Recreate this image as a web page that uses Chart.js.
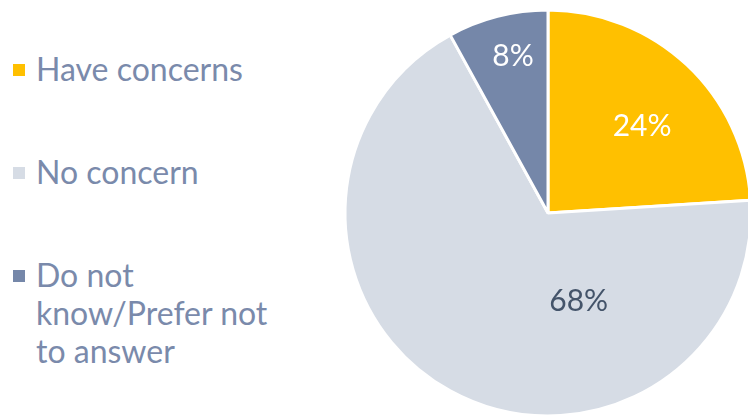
<!DOCTYPE html>
<html>
<head>
<meta charset="utf-8">
<script src="https://cdn.jsdelivr.net/npm/chart.js@4/dist/chart.umd.min.js"></script>
<style>
  html, body { margin: 0; padding: 0; background: #fff; overflow: hidden; }
  body { width: 748px; height: 415px; position: relative; font-family: Lato, "Open Sans", sans-serif; }
  #legend { position: absolute; left: 13px; top: 50px; }
  .item { display: flex; align-items: flex-start; margin-bottom: 65px; }
  .box { width: 12px; height: 12px; margin-top: 14px; margin-right: 11px; flex: none; }
  .txt { width: 245px; font-size: 32px; line-height: 38px; color: #7a8aab; }
  #wrap { position: absolute; left: 328px; top: -7px; width: 440px; height: 440px; }
</style>
</head>
<body>
<div id="legend"></div>
<div id="wrap"><canvas id="pie"></canvas></div>
<script>
// Data
const categories = ["Have concerns", "No concern", "Do not know/Prefer not to answer"]
const values = [24, 68, 8]
const colors = ["#ffc000", "#d6dce5", "#7587a9"]
const labelColors = ["#ffffff", "#44546a", "#ffffff"]
// label placement inside each slice: fraction of radius, angle shift (deg) from slice middle
const labelPlace = [{ f: 0.63, shift: 4.2 }, { f: 0.46, shift: -48 }, { f: 0.79, shift: 1.8 }]

// Legend
document.getElementById("legend").innerHTML = categories.map((c, i) => `
  <div class="item">
    <div class="box" style="background:${colors[i]}"></div>
    <div class="txt">${c}</div>
  </div>
`).join("")

// Slice labels
const sliceLabels = {
  id: "sliceLabels",
  afterDatasetsDraw(chart) {
    const ctx = chart.ctx
    const meta = chart.getDatasetMeta(0)
    ctx.save()
    ctx.font = "30px Lato, 'Open Sans', sans-serif"
    ctx.textAlign = "center"
    ctx.textBaseline = "middle"
    meta.data.forEach((arc, i) => {
      const p = arc.getProps(["x", "y", "startAngle", "endAngle", "outerRadius"], true)
      const a = (p.startAngle + p.endAngle) / 2 + labelPlace[i].shift * Math.PI / 180
      const r = p.outerRadius * labelPlace[i].f
      ctx.fillStyle = labelColors[i]
      ctx.fillText(values[i] + "%", p.x + Math.cos(a) * r, p.y + Math.sin(a) * r)
    })
    ctx.restore()
  }
}

new Chart(document.getElementById("pie"), {
  type: "pie",
  data: {
    labels: categories,
    datasets: [{ data: values, backgroundColor: colors, borderColor: "#ffffff", borderWidth: 3 }]
  },
  options: {
    responsive: true,
    maintainAspectRatio: false,
    animation: false,
    radius: 203,
    plugins: { legend: { display: false }, tooltip: { enabled: false } }
  },
  plugins: [sliceLabels]
})
</script>
</body>
</html>
